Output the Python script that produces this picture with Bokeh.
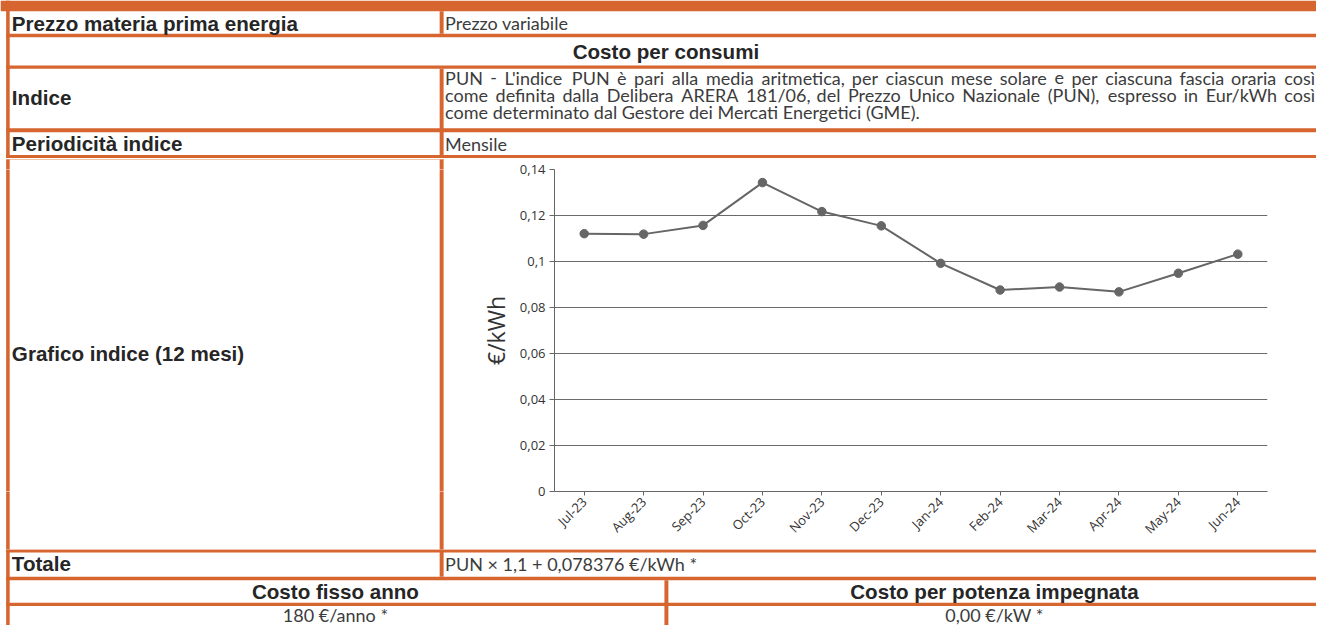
import math
from bokeh.plotting import figure
from bokeh.layouts import column, row
from bokeh.models import ColumnDataSource, Range1d, FactorRange, FixedTicker
from bokeh.core.properties import value
from bokeh.embed import file_html
from bokeh.resources import INLINE

# ---------------- data ----------------
months = ["Jul-23", "Aug-23", "Sep-23", "Oct-23", "Nov-23", "Dec-23",
          "Jan-24", "Feb-24", "Mar-24", "Apr-24", "May-24", "Jun-24"]
pun = [0.1121, 0.1119, 0.1157, 0.1343, 0.1217, 0.1155,
       0.0992, 0.0876, 0.0889, 0.0868, 0.0949, 0.1032]
y_ticks = [0, 0.02, 0.04, 0.06, 0.08, 0.1, 0.12, 0.14]
y_tick_labels = ["0", "0,02", "0,04", "0,06", "0,08", "0,1", "0,12", "0,14"]
y_axis_title = "€/kWh"

label_prezzo = "Prezzo materia prima energia"
value_prezzo = "Prezzo variabile"
header_consumi = "Costo per consumi"
label_indice = "Indice"
indice_line1 = "PUN - L'indice PUN è pari alla media aritmetica, per ciascun mese solare e per ciascuna fascia oraria così"
indice_line2 = "come definita dalla Delibera ARERA 181/06, del Prezzo Unico Nazionale (PUN), espresso in Eur/kWh così"
indice_line3 = "come determinato dal Gestore dei Mercati Energetici (GME)."
label_period = "Periodicità indice"
value_period = "Mensile"
label_grafico = "Grafico indice (12 mesi)"
label_totale = "Totale"
value_totale = "PUN × 1,1 + 0,078376 €/kWh *"
header_fisso = "Costo fisso anno"
header_potenza = "Costo per potenza impegnata"
value_fisso = "180 €/anno *"
value_potenza = "0,00 €/kW *"

# ---------------- styling / layout ----------------
ORANGE = "#D6652F"
DARK = "#262626"
TXT = "#3c3c3c"
GRAY = "#666666"
BOLD_FONT = value("Liberation Sans")
BOLD_PX = 20.6
REG_FONT = value("Lato")
REG_PX = 18.0
SX = 1316 / 1332          # reference px -> screen px (horizontal)
TXT_SHIFT = 7.2           # baseline correction (reference px)

# orange rules: (left, right, top, bottom) in reference pixel space
rules = [
    (0, 1332, 0, 11),
    (5.7, 9.3, 0, 641),
    (5.7, 1332, 34, 37.7),
    (5.7, 1332, 66.7, 70),
    (5.7, 1332, 131, 135),
    (5.7, 1332, 158.3, 162.3),
    (5.7, 1332, 562.7, 566),
    (5.7, 1332, 591, 594.5),
    (5.7, 1332, 617.7, 621),
    (444.5, 448.5, 11, 34),
    (444.5, 448.5, 70, 591),
    (672, 676, 594.5, 641),
]

# approximate advance widths (em) of the regular font, used to justify lines
EM = {" ": 0.193, ",": 0.22, ".": 0.22, "'": 0.24, "-": 0.36, "(": 0.30, ")": 0.30,
      "/": 0.37, "è": 0.52, "ì": 0.24, "€": 0.58}
EM.update({c: w for c, w in zip("abcdefghijklmnopqrstuvwxyz",
    [.50, .56, .46, .56, .52, .32, .50, .56, .24, .24, .50, .24, .84, .56, .56, .56,
     .56, .37, .42, .35, .56, .50, .76, .49, .50, .45])})
EM.update({c: w for c, w in zip("ABCDEFGHIJKLMNOPQRSTUVWXYZ",
    [.68, .64, .68, .76, .56, .54, .74, .76, .29, .40, .66, .50, .92, .76, .81, .60,
     .81, .63, .53, .58, .73, .68, 1.02, .66, .63, .60])})
EM.update({d: 0.58 for d in "0123456789"})


def word_w(w):
    return sum(EM.get(ch, 0.5) for ch in w) * REG_PX / SX


def justify(line, left, right):
    words = line.split(" ")
    widths = [word_w(w) for w in words]
    gap = (right - left - sum(widths)) / (len(words) - 1)
    xs, x = [], left
    for wd in widths:
        xs.append(x)
        x += wd + gap
    return words, xs


def piece(x0, x1, y0, y1, w, h):
    f = figure(width=w, height=h, x_range=Range1d(x0, x1), y_range=Range1d(y1, y0),
               output_backend="svg", toolbar_location=None,
               x_axis_location=None, y_axis_location=None, min_border=0)
    f.grid.visible = False
    f.outline_line_color = None
    f.background_fill_color = "white"
    f.border_fill_color = "white"
    src = ColumnDataSource(dict(l=[r[0] for r in rules], r=[r[1] for r in rules],
                                t=[r[2] for r in rules], b=[r[3] for r in rules]))
    f.quad(left="l", right="r", top="t", bottom="b", source=src,
           fill_color=ORANGE, line_color=None)
    return f


def put(f, x, y, txt, bold=False, align="left"):
    xs = x if isinstance(x, list) else [x]
    ts = txt if isinstance(txt, list) else [txt]
    f.text(x=xs, y=[y - TXT_SHIFT] * len(xs), text=ts,
           text_font=BOLD_FONT if bold else REG_FONT,
           text_font_size=f"{BOLD_PX if bold else REG_PX}px",
           text_font_style="bold" if bold else "normal",
           text_color=DARK if bold else TXT,
           text_align=align, text_baseline="alphabetic")


W, H = 1316, 625
TOP_H, MID_H, BOT_H = 158, 391, 76
LEFT_W = 444
CHART_W = W - LEFT_W
B_TOP, B_BOT = 11, 58
FRAME_H = MID_H - B_TOP - B_BOT
LEFT_X1 = LEFT_W / SX

# top piece
top = piece(0, 1332, 0, 162, W, TOP_H)
put(top, 11.5, 30.5, label_prezzo, bold=True)
put(top, 450, 30, value_prezzo)
put(top, 673.5, 59, header_consumi, bold=True, align="center")
put(top, 11.5, 107, label_indice, bold=True)
w1, x1 = justify(indice_line1, 450, 1330)
w2, x2 = justify(indice_line2, 450, 1330)
put(top, x1, 86.5, w1)
put(top, x2, 104, w2)
put(top, 450, 121.5, indice_line3)
put(top, 11.5, 154, label_period, bold=True)
put(top, 450, 154, value_period)

# middle-left pieces (split so that the row's frame alignment keeps them tight)
ref_top, ref_f0, ref_f1, ref_bot = 162, 173.3, 503.3, 563
left_a = piece(0, LEFT_X1, ref_top, ref_f0, LEFT_W, B_TOP)
left_b = piece(0, LEFT_X1, ref_f0, ref_f1, LEFT_W, FRAME_H)
left_c = piece(0, LEFT_X1, ref_f1, ref_bot, LEFT_W, B_BOT)
put(left_b, 11.5, 369, label_grafico, bold=True)
left = column(left_a, left_b, left_c, spacing=0)

# chart
chart = figure(width=CHART_W, height=MID_H, x_range=FactorRange(factors=months),
               y_range=Range1d(0, 0.14), output_backend="svg", toolbar_location=None,
               min_border_left=110, min_border_right=49, min_border_top=B_TOP,
               min_border_bottom=B_BOT)
chart.outline_line_color = None
chart.background_fill_color = "white"
chart.border_fill_color = "white"
chart.line(x=months, y=pun, line_color=GRAY, line_width=2)
chart.scatter(x=months, y=pun, size=8.5, fill_color=GRAY, line_color=GRAY)
chart.xgrid.visible = False
chart.ygrid.ticker = FixedTicker(ticks=y_ticks)
chart.ygrid.grid_line_color = "#6a6a6a"
chart.ygrid.grid_line_width = 1

ya = chart.yaxis[0]
ya.ticker = FixedTicker(ticks=y_ticks)
ya.major_label_overrides = {t: l for t, l in zip(y_ticks, y_tick_labels)}
ya.axis_label = y_axis_title
ya.axis_label_text_font = "Open Sans"
ya.axis_label_text_font_size = "23px"
ya.axis_label_text_font_style = "normal"
ya.axis_label_text_color = "#333333"
ya.axis_label_standoff = 5

xa = chart.xaxis[0]
xa.major_label_orientation = math.pi / 4

for ax in (xa, ya):
    ax.axis_line_color = GRAY
    ax.major_tick_line_color = GRAY
    ax.minor_tick_line_color = None
    ax.major_tick_in = 0
    ax.major_label_text_font = "Open Sans"
    ax.major_label_text_font_size = "13px"
    ax.major_label_text_color = "#333333"
ya.major_tick_out = 5
xa.major_tick_out = 4
ya.major_label_standoff = 4
xa.major_label_standoff = 4

# bottom piece
bot = piece(0, 1332, 563, 641, W, BOT_H)
put(bot, 11.5, 585, label_totale, bold=True)
put(bot, 450, 585, value_totale)
put(bot, 339, 613, header_fisso, bold=True, align="center")
put(bot, 1006, 613, header_potenza, bold=True, align="center")
put(bot, 339, 637, value_fisso, align="center")
put(bot, 1006, 637, value_potenza, align="center")

layout = column(top, row(left, chart, spacing=0), bot, spacing=0)

open("out.html", "w").write(file_html(layout, INLINE))
